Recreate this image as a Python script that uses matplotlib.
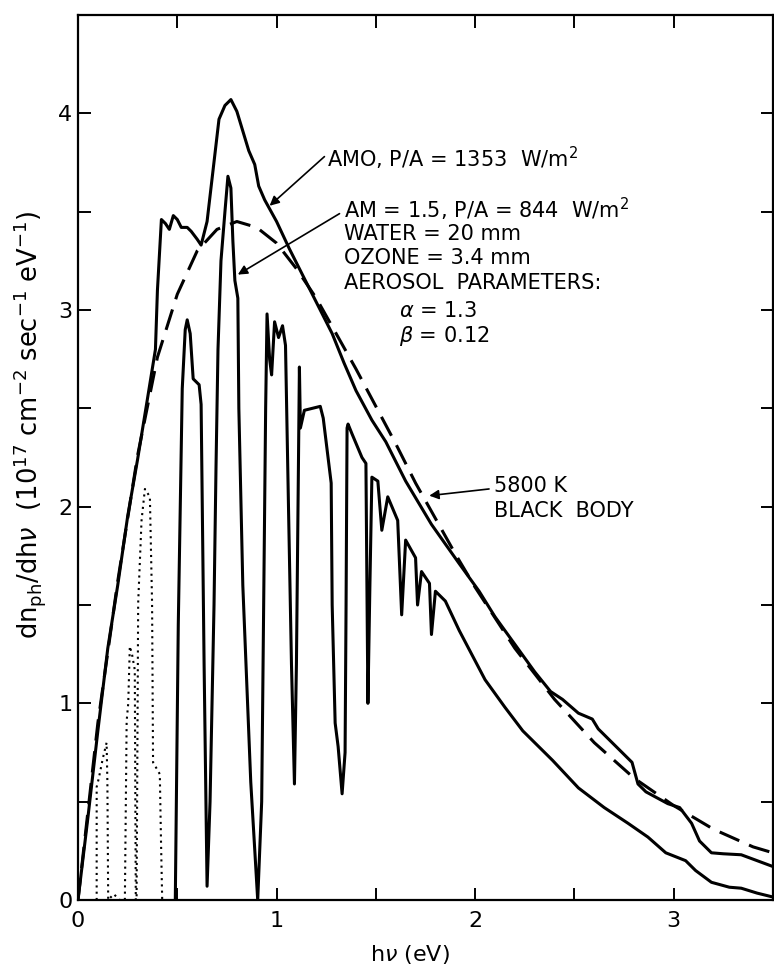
import numpy as np
import matplotlib.pyplot as plt

# 5800 K black body (dashed)
bb_x = [0, 0.1, 0.2, 0.3, 0.4, 0.5, 0.6, 0.7, 0.8, 0.9, 1.0, 1.1, 1.2, 1.3, 1.4,
        1.5, 1.6, 1.7, 1.8, 1.9, 2.0, 2.2, 2.4, 2.6, 2.8, 3.0, 3.2, 3.4, 3.5]
bb_y = [0, 0.90, 1.62, 2.26, 2.76, 3.08, 3.30, 3.41, 3.45, 3.42, 3.34, 3.21, 3.06, 2.88, 2.70,
        2.51, 2.32, 2.12, 1.94, 1.76, 1.59, 1.28, 1.02, 0.80, 0.62, 0.48, 0.36, 0.27, 0.24]

# AMO spectrum
amo_x = [0, 0.05, 0.1, 0.15, 0.2, 0.25, 0.3, 0.35, 0.39, 0.40, 0.42, 0.44, 0.46, 0.48,
         0.50, 0.52, 0.55, 0.57, 0.60, 0.62, 0.65, 0.68, 0.71, 0.74, 0.77, 0.80, 0.83,
         0.86, 0.89, 0.91, 0.94, 1.0, 1.065, 1.15, 1.22, 1.28, 1.34, 1.40, 1.48, 1.55,
         1.65, 1.78, 1.92, 2.02, 2.1, 2.2, 2.3, 2.38, 2.44, 2.52, 2.59, 2.62, 2.69, 2.79,
         2.82, 2.86, 2.97, 3.03, 3.09, 3.13, 3.19, 3.25, 3.34, 3.42, 3.5]
amo_y = [0, 0.42, 0.86, 1.28, 1.60, 1.95, 2.24, 2.55, 2.80, 3.10, 3.46, 3.44, 3.41, 3.48,
         3.46, 3.42, 3.42, 3.40, 3.36, 3.33, 3.45, 3.71, 3.97, 4.04, 4.07, 4.01, 3.91,
         3.81, 3.74, 3.63, 3.56, 3.45, 3.31, 3.14, 3.00, 2.88, 2.73, 2.59, 2.44, 2.33,
         2.13, 1.91, 1.71, 1.57, 1.44, 1.30, 1.16, 1.06, 1.02, 0.95, 0.92, 0.87, 0.80, 0.70,
         0.59, 0.55, 0.49, 0.47, 0.39, 0.30, 0.24, 0.235, 0.23, 0.20, 0.17]

# AM 1.5 spectrum
am15_x = [0.49, 0.505, 0.525, 0.54, 0.55, 0.565, 0.58, 0.61, 0.62, 0.635, 0.65, 0.665,
          0.685, 0.695, 0.705, 0.72, 0.74, 0.755, 0.77, 0.78, 0.79, 0.805, 0.81, 0.83,
          0.87, 0.905, 0.925, 0.935, 0.945, 0.952, 0.965, 0.975, 0.99, 1.01, 1.03, 1.045,
          1.06, 1.075, 1.09, 1.10, 1.11, 1.115, 1.12, 1.14, 1.22, 1.235, 1.275, 1.28,
          1.295, 1.31, 1.33, 1.345, 1.35, 1.355, 1.36, 1.38, 1.43, 1.45, 1.455, 1.46,
          1.47, 1.48, 1.51, 1.53, 1.56, 1.61, 1.63, 1.65, 1.70, 1.71, 1.73, 1.77, 1.78,
          1.80, 1.85, 1.92, 2.05, 2.15, 2.24, 2.39, 2.52, 2.65, 2.77, 2.87, 2.96, 3.06,
          3.11, 3.19, 3.28, 3.34, 3.42, 3.5]
am15_y = [0.0, 1.4, 2.6, 2.9, 2.95, 2.88, 2.65, 2.62, 2.52, 1.2, 0.07, 0.5,
          1.5, 2.2, 2.8, 3.25, 3.5, 3.68, 3.62, 3.35, 3.15, 3.06, 2.5, 1.6,
          0.6, 0.0, 0.5, 1.5, 2.5, 2.98, 2.75, 2.67, 2.94, 2.86, 2.92, 2.82,
          2.0, 1.2, 0.59, 1.2, 2.2, 2.71, 2.40, 2.49, 2.51, 2.45, 2.12, 1.5,
          0.9, 0.78, 0.54, 0.75, 1.5, 2.4, 2.42, 2.37, 2.25, 2.22, 1.6, 1.0,
          1.6, 2.15, 2.13, 1.88, 2.05, 1.93, 1.45, 1.83, 1.74, 1.50, 1.67, 1.61, 1.35,
          1.57, 1.52, 1.37, 1.12, 0.98, 0.86, 0.71, 0.57, 0.47, 0.39, 0.32, 0.24, 0.20,
          0.15, 0.09, 0.065, 0.06, 0.035, 0.015]

# dotted low-energy curve
dot_x = [0.094, 0.094, 0.105, 0.125, 0.144, 0.148, 0.152, 0.18, 0.21, 0.236, 0.245,
         0.253, 0.261, 0.272, 0.286, 0.291, 0.295, 0.303, 0.32, 0.337, 0.362, 0.373,
         0.378, 0.412, 0.418, 0.424]
dot_y = [0.0, 0.575, 0.62, 0.72, 0.80, 0.6, 0.0, 0.03, 0.0, 0.0, 0.91,
         1.0, 1.29, 1.25, 1.17, 0.0, 0.0, 1.51, 1.93, 2.09, 2.05, 1.51,
         0.70, 0.64, 0.3, 0.0]

fig = plt.figure(figsize=(7.74, 9.67), dpi=100)
ax = fig.add_axes([78/774, 67/967, 695/774, 885/967])

ax.plot(bb_x, bb_y, color='black', lw=2.2, dashes=(7, 3.5))
ax.plot(amo_x, amo_y, color='black', lw=2.2)
ax.plot(am15_x, am15_y, color='black', lw=2.2)
ax.plot(dot_x, dot_y, color='black', lw=1.5, linestyle=(0, (1, 2.0)))

ax.set_xlim(0, 3.5)
ax.set_ylim(0, 4.5)
ax.set_xticks(np.arange(0, 3.51, 0.5))
ax.set_xticklabels(['0', '', '1', '', '2', '', '3', ''])
ax.set_yticks(np.arange(0, 4.51, 0.5))
ax.set_yticklabels(['0', '', '1', '', '2', '', '3', '', '4', ''])
ax.tick_params(direction='in', length=9, width=1.4, top=True, right=True,
               labelsize=16)
ax.tick_params(axis='x', pad=8)
ax.tick_params(axis='y', pad=4)
for s in ax.spines.values():
    s.set_linewidth(1.6)

fs = 15
arr = dict(arrowstyle='-|>', color='black', lw=1.2, mutation_scale=14,
           shrinkA=0, shrinkB=0)
ax.annotate('', xy=(0.965, 3.53), xytext=(1.241, 3.78), arrowprops=arr)
ax.text(1.256, 3.77, 'AMO, P/A = 1353  W/m$^2$', fontsize=fs, ha='left', va='center')

ax.annotate('', xy=(0.805, 3.18), xytext=(1.317, 3.49), arrowprops=arr)
ax.text(1.342, 3.513, 'AM = 1.5, P/A = 844  W/m$^2$', fontsize=fs, ha='left', va='center')
ax.text(1.342, 3.386, 'WATER = 20 mm', fontsize=fs, ha='left', va='center')
ax.text(1.342, 3.264, 'OZONE = 3.4 mm', fontsize=fs, ha='left', va='center')
ax.text(1.342, 3.137, 'AEROSOL  PARAMETERS:', fontsize=fs, ha='left', va='center')
ax.text(1.618, 2.995, r'$\alpha$ = 1.3', fontsize=fs, ha='left', va='center')
ax.text(1.618, 2.868, r'$\beta$ = 0.12', fontsize=fs, ha='left', va='center')

ax.annotate('', xy=(1.769, 2.056), xytext=(2.07, 2.09), arrowprops=arr)
ax.text(2.095, 2.107, '5800 K', fontsize=fs, ha='left', va='center')
ax.text(2.095, 1.98, 'BLACK  BODY', fontsize=fs, ha='left', va='center')

fig.text(30/774, 1 - 425/967,
         r'dn$_{\rm ph}$/dh$\nu$  (10$^{17}$ cm$^{-2}$ sec$^{-1}$ eV$^{-1}$)',
         rotation=90, ha='center', va='center', fontsize=18.5)
fig.text(410/774, 1 - 955/967, r'h$\nu$ (eV)', ha='center', va='center', fontsize=16)

fig.savefig('out.png', dpi=100)
